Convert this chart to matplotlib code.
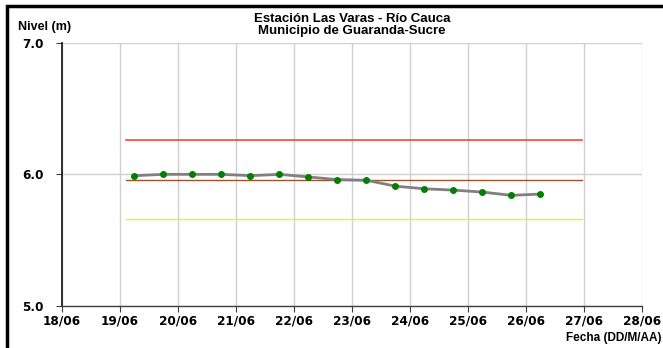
import numpy as np
import matplotlib
matplotlib.use("Agg")
import matplotlib.pyplot as plt
import matplotlib.dates as mdates
from matplotlib.patches import Rectangle

plt.rcParams['font.family'] = ['Liberation Sans', 'DejaVu Sans']

# water level readings (06:00 and 18:00)
fechas = np.array(['2011-06-19T06:00', '2011-06-19T18:00', '2011-06-20T06:00', '2011-06-20T18:00',
                   '2011-06-21T06:00', '2011-06-21T18:00', '2011-06-22T06:00', '2011-06-22T18:00',
                   '2011-06-23T06:00', '2011-06-23T18:00', '2011-06-24T06:00', '2011-06-24T18:00',
                   '2011-06-25T06:00', '2011-06-25T18:00', '2011-06-26T06:00'], dtype='datetime64[m]')
nivel = [5.99, 6.00, 6.00, 6.00, 5.99, 6.00, 5.98, 5.96, 5.955,
         5.91, 5.89, 5.88, 5.865, 5.84, 5.85]

# threshold lines
umbral_x = np.array(['2011-06-19T02:30', '2011-06-26T23:00'], dtype='datetime64[m]')
umbral_rojo = 6.26
umbral_cafe = 5.96
umbral_amarillo = 5.66

xlim = np.array(['2011-06-18', '2011-06-28'], dtype='datetime64[m]')

fig = plt.figure(figsize=(6.63, 3.48), dpi=100)
ax = fig.add_axes([62/663, 1-305.7/348, 580/663, (305.7-43)/348])

ax.plot(umbral_x, [umbral_rojo]*2, color='#ff4040', lw=1.2, zorder=2)
ax.plot(umbral_x, [umbral_cafe]*2, color='#a0522d', lw=1.0, zorder=2)
ax.plot(umbral_x, [umbral_amarillo]*2, color='#f0f020', lw=1.0, zorder=2)
ax.plot(fechas, nivel, color='#808080', lw=2.0, zorder=3,
        marker='o', ms=4, mfc='#008000', mec='#008000')

ax.set_xlim(xlim[0], xlim[1])
ax.set_ylim(5.0, 7.0)
ax.set_yticks([5.0, 6.0, 7.0])
ax.yaxis.set_major_formatter(plt.FormatStrFormatter('%.1f'))
ax.xaxis.set_major_locator(mdates.DayLocator())
ax.xaxis.set_major_formatter(mdates.DateFormatter('%d/%m'))

ax.grid(True, color='#d0d0d0', lw=1)
ax.set_axisbelow(True)
for s in ['top', 'right']:
    ax.spines[s].set_visible(False)
ax.spines['left'].set_color('#202020')
ax.spines['left'].set_linewidth(1.3)
ax.spines['bottom'].set_color('#404040')
ax.spines['bottom'].set_linewidth(1.0)
ax.tick_params(axis='both', length=4, width=0.8, color='#404040', pad=2)
ax.tick_params(axis='y', pad=9)
for lbl in ax.get_xticklabels() + ax.get_yticklabels():
    lbl.set_fontweight('bold')
    lbl.set_fontfamily('DejaVu Sans')
    lbl.set_fontsize(8.7)

fig.text(352/663, 1-25/348, 'Estación Las Varas - Río Cauca\nMunicipio de Guaranda-Sucre',
         ha='center', va='center', fontsize=9.5, fontweight='bold', linespacing=0.9)
fig.text(18/663, 1-27/348, 'Nivel (m)', ha='left', va='center', fontsize=9, fontweight='bold')
fig.text(661/663, 1-338/348, 'Fecha (DD/M/AA)', ha='right', va='center', fontsize=8.5,
         fontweight='bold')

# outer frame (cropped on right and bottom)
fig.patches.append(Rectangle((7/663, -0.1), 1.2, 1 - 6/348 + 0.1, transform=fig.transFigure,
                             fill=False, ec='black', lw=2.5))

fig.savefig('out.png', dpi=100)
